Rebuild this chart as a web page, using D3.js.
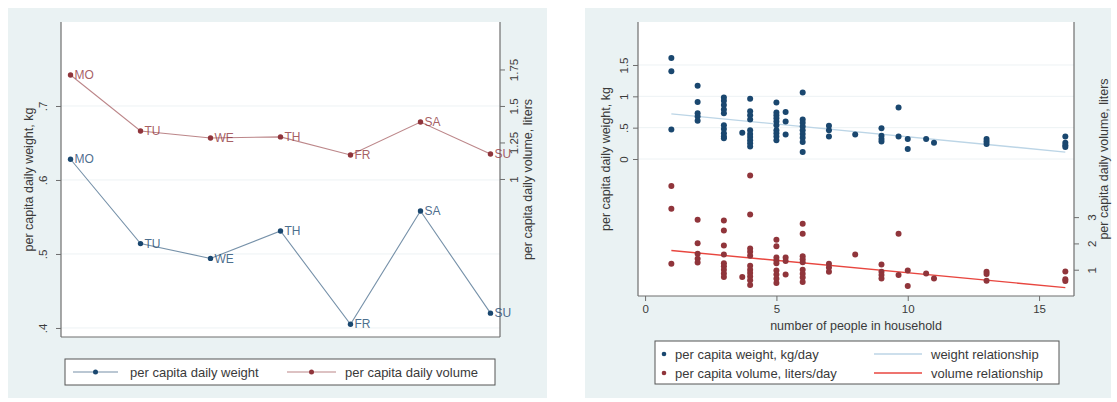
<!DOCTYPE html>
<html>
<head>
<meta charset="utf-8">
<script src="https://cdn.jsdelivr.net/npm/d3@7"></script>
<style>
  body { margin: 0; background: #fff; }
  svg { display: block; font-family: "Liberation Sans", Arial, sans-serif; }
  .tick text { fill: #3a3a3a; font-size: 11.5px; }
  .axis-title { fill: #3a3a3a; font-size: 12.5px; }
  .legend-text { fill: #3a3a3a; font-size: 13px; }
</style>
</head>
<body>
<div id="chart"></div>
<script>
// ----- Data: daily averages (left panel) -----
const days = ["MO", "TU", "WE", "TH", "FR", "SA", "SU"];
const dailyWeight = [0.628, 0.514, 0.494, 0.531, 0.405, 0.558, 0.420];
const dailyVolume = [1.712, 1.329, 1.281, 1.288, 1.164, 1.390, 1.171];
const dailyWeightTicks = [0.4, 0.5, 0.6, 0.7];
const dailyVolumeTicks = [1, 1.25, 1.5, 1.75];

// ----- Data: household scatter (right panel) -----
const hhSizes = [1, 2, 3, 3.7, 4, 5, 5.35, 6, 7, 8, 9, 9.65, 10, 10.7, 11, 13, 16];
const hhWeight = [
  [1.61, 1.40, 0.47],
  [1.17, 0.91, 0.73, 0.68, 0.61],
  [0.98, 0.93, 0.86, 0.79, 0.73, 0.54, 0.48, 0.41, 0.36, 0.33],
  [0.42],
  [0.96, 0.76, 0.70, 0.63, 0.46, 0.40, 0.35, 0.30, 0.25, 0.20],
  [0.90, 0.74, 0.70, 0.65, 0.60, 0.54, 0.46, 0.41, 0.36, 0.30],
  [0.75, 0.60, 0.39],
  [1.06, 0.63, 0.58, 0.52, 0.46, 0.40, 0.34, 0.27, 0.11],
  [0.53, 0.46, 0.36],
  [0.39],
  [0.49, 0.37, 0.32, 0.28],
  [0.82, 0.36],
  [0.32, 0.16],
  [0.32],
  [0.26],
  [0.32, 0.28, 0.24],
  [0.36, 0.26, 0.22, 0.19]
];
const hhVolume = [
  [4.18, 3.32, 1.23],
  [2.90, 2.01, 1.61, 1.42, 1.27],
  [2.87, 2.49, 1.92, 1.58, 1.25, 1.13, 1.00, 0.86, 0.72],
  [0.72],
  [4.58, 3.10, 1.81, 1.68, 1.53, 1.15, 1.00, 0.87, 0.74, 0.60, 0.42],
  [2.14, 1.89, 1.46, 1.35, 1.25, 0.97, 0.82, 0.66, 0.49],
  [1.46, 1.33, 0.82],
  [2.75, 2.37, 1.51, 1.40, 1.28, 1.00, 0.85, 0.70, 0.53],
  [1.23, 1.08, 0.92],
  [1.58],
  [1.20, 0.92, 0.80, 0.67],
  [2.37, 0.80],
  [0.97, 0.38],
  [0.86],
  [0.67],
  [0.92, 0.84, 0.58],
  [0.93, 0.64, 0.57]
];
// fitted lines read at the ends of the household range
const fitSizes = [1, 16];
const weightFit = [0.72, 0.11];
const volumeFit = [1.73, 0.32];
const hhTicks = [0, 5, 10, 15];
const hhWeightTicks = [0, 0.5, 1, 1.5];
const hhVolumeTicks = [1, 2, 3];

// ----- Config -----
const width = 1117, height = 402;
const navy = "#1a476f", maroon = "#90353b";
const bg = "#eaf2f3", axisColor = "#6e6e6e", gridColor = "#edf2f4";
const fmt = v => String(v).replace(/^0\./, ".");

const svg = d3.select("#chart")
  .append("svg")
  .attr("width", width)
  .attr("height", height);

// panel backgrounds
svg.append("rect").attr("x", 8).attr("y", 8).attr("width", 539).attr("height", 390).attr("fill", bg);
svg.append("rect").attr("x", 585).attr("y", 8).attr("width", 526).attr("height", 390).attr("fill", bg);

// helper: vertical axis with rotated labels
function yAxis(g, scale, ticks, side, offset) {
  const ax = (side === "left" ? d3.axisLeft(scale) : d3.axisRight(scale))
    .tickValues(ticks).tickSize(5).tickFormat(fmt);
  g.call(ax);
  g.select(".domain").remove();
  g.selectAll(".tick line").attr("stroke", axisColor);
  g.selectAll(".tick text")
    .attr("transform", "rotate(-90)")
    .attr("x", 0)
    .attr("y", side === "left" ? -offset : offset)
    .attr("dy", "0.35em")
    .attr("text-anchor", "middle");
}

function plotFrame(x0, x1, y0, y1) {
  svg.append("rect").attr("x", x0).attr("y", y0).attr("width", x1 - x0).attr("height", y1 - y0).attr("fill", "#fff");
}

function frameLines(x0, x1, y0, y1) {
  const g = svg.append("g").attr("stroke", axisColor).attr("stroke-width", 1.2);
  g.append("line").attr("x1", x0).attr("x2", x0).attr("y1", y0).attr("y2", y1);
  g.append("line").attr("x1", x1).attr("x2", x1).attr("y1", y0).attr("y2", y1);
  g.append("line").attr("x1", x0).attr("x2", x1).attr("y1", y1).attr("y2", y1);
}

function axisTitle(x, y, text) {
  svg.append("text").attr("class", "axis-title")
    .attr("transform", `translate(${x},${y}) rotate(-90)`)
    .attr("text-anchor", "middle").attr("dy", "0.35em")
    .text(text);
}

// ===== Left panel: day of week =====
const L = { x0: 61, x1: 500, y0: 22, y1: 337 };
plotFrame(L.x0, L.x1, L.y0, L.y1);

const xDay = d3.scalePoint().domain(days).range([L.x0, L.x1]).padding(0.136);
const yW = d3.scaleLinear().domain([0.3878, 0.8135]).range([L.y1, L.y0]);
const yV = d3.scaleLinear().domain([-0.0822, 2.075]).range([L.y1, L.y0]);

svg.append("g").selectAll("line").data(dailyWeightTicks).join("line")
  .attr("x1", L.x0).attr("x2", L.x1)
  .attr("y1", d => yW(d)).attr("y2", d => yW(d))
  .attr("stroke", gridColor);

frameLines(L.x0, L.x1, L.y0, L.y1);
yAxis(svg.append("g").attr("transform", `translate(${L.x0},0)`), yW, dailyWeightTicks, "left", 18);
yAxis(svg.append("g").attr("transform", `translate(${L.x1},0)`), yV, dailyVolumeTicks, "right", 14);
axisTitle(29, (L.y0 + L.y1) / 2, "per capita daily weight, kg");
axisTitle(528, (L.y0 + L.y1) / 2, "per capita daily volume, liters");

const daySeries = [
  { values: dailyWeight, y: yW, color: navy },
  { values: dailyVolume, y: yV, color: maroon }
];
daySeries.forEach(s => {
  const pts = days.map((d, i) => [xDay(d), s.y(s.values[i]), d]);
  svg.append("path")
    .attr("d", d3.line()(pts.map(p => [p[0], p[1]])))
    .attr("fill", "none").attr("stroke", s.color).attr("stroke-opacity", 0.6).attr("stroke-width", 1.1);
  svg.append("g").selectAll("circle").data(pts).join("circle")
    .attr("cx", p => p[0]).attr("cy", p => p[1]).attr("r", 2.7).attr("fill", s.color);
  svg.append("g").selectAll("text").data(pts).join("text")
    .attr("x", p => p[0] + 4).attr("y", p => p[1]).attr("dy", "0.35em")
    .attr("fill", s.color).attr("fill-opacity", 0.8).style("font-size", "12px")
    .text(p => p[2]);
});

// left legend
const lg = svg.append("g");
lg.append("rect").attr("x", 65).attr("y", 359).attr("width", 430).attr("height", 26)
  .attr("fill", "#fff").attr("stroke", "#555").attr("stroke-width", 1);
[
  { x1: 73, x2: 118, tx: 130, color: navy, label: "per capita daily weight" },
  { x1: 287, x2: 336, tx: 345, color: maroon, label: "per capita daily volume" }
].forEach(k => {
  lg.append("line").attr("x1", k.x1).attr("x2", k.x2).attr("y1", 372).attr("y2", 372)
    .attr("stroke", k.color).attr("stroke-opacity", 0.6).attr("stroke-width", 1.1);
  lg.append("circle").attr("cx", (k.x1 + k.x2) / 2).attr("cy", 372).attr("r", 2.5).attr("fill", k.color);
  lg.append("text").attr("class", "legend-text").attr("x", k.tx).attr("y", 372).attr("dy", "0.35em").text(k.label);
});

// ===== Right panel: household size =====
const R = { x0: 638, x1: 1074, y0: 22, y1: 296 };
plotFrame(R.x0, R.x1, R.y0, R.y1);

const xHh = d3.scaleLinear().domain([-0.27, 16.33]).range([R.x0, R.x1]);
const yHW = d3.scaleLinear().domain([-2.186, 2.186]).range([R.y1, R.y0]);
const yHV = d3.scaleLinear().domain([0, 10.42]).range([R.y1, R.y0]);

svg.append("g").selectAll("line").data(hhWeightTicks).join("line")
  .attr("x1", R.x0).attr("x2", R.x1)
  .attr("y1", d => yHW(d)).attr("y2", d => yHW(d))
  .attr("stroke", gridColor);

const weightPts = hhSizes.flatMap((n, i) => hhWeight[i].map(v => [n, v]));
const volumePts = hhSizes.flatMap((n, i) => hhVolume[i].map(v => [n, v]));

svg.append("path")
  .attr("d", d3.line()(fitSizes.map((n, i) => [xHh(n), yHW(weightFit[i])])))
  .attr("stroke", "#bcd5e6").attr("stroke-width", 1.4).attr("fill", "none");
svg.append("path")
  .attr("d", d3.line()(fitSizes.map((n, i) => [xHh(n), yHV(volumeFit[i])])))
  .attr("stroke", "#e8463f").attr("stroke-width", 1.4).attr("fill", "none");

svg.append("g").selectAll("circle").data(weightPts).join("circle")
  .attr("cx", d => xHh(d[0])).attr("cy", d => yHW(d[1])).attr("r", 3).attr("fill", navy);
svg.append("g").selectAll("circle").data(volumePts).join("circle")
  .attr("cx", d => xHh(d[0])).attr("cy", d => yHV(d[1])).attr("r", 3).attr("fill", maroon);

frameLines(R.x0, R.x1, R.y0, R.y1);
yAxis(svg.append("g").attr("transform", `translate(${R.x0},0)`), yHW, hhWeightTicks, "left", 14);
yAxis(svg.append("g").attr("transform", `translate(${R.x1},0)`), yHV, hhVolumeTicks, "right", 18);

const xg = svg.append("g").attr("transform", `translate(0,${R.y1})`)
  .call(d3.axisBottom(xHh).tickValues(hhTicks).tickSize(5).tickFormat(d3.format("d")));
xg.select(".domain").remove();
xg.selectAll(".tick line").attr("stroke", axisColor);
xg.selectAll(".tick text").attr("y", 9);

svg.append("text").attr("class", "axis-title")
  .attr("x", 856).attr("y", 326).attr("dy", "0.35em").attr("text-anchor", "middle")
  .text("number of people in household");
axisTitle(606, (R.y0 + R.y1) / 2, "per capita daily weight, kg");
axisTitle(1104, (R.y0 + R.y1) / 2, "per capita daily volume, liters");

// right legend
const rg = svg.append("g");
rg.append("rect").attr("x", 655).attr("y", 341).attr("width", 404).attr("height", 43)
  .attr("fill", "#fff").attr("stroke", "#555").attr("stroke-width", 1);
[
  { y: 354, color: navy, label: "per capita weight, kg/day" },
  { y: 373, color: maroon, label: "per capita volume, liters/day" }
].forEach(k => {
  rg.append("circle").attr("cx", 664).attr("cy", k.y).attr("r", 2.3).attr("fill", k.color);
  rg.append("text").attr("class", "legend-text").attr("x", 675).attr("y", k.y).attr("dy", "0.35em").text(k.label);
});
[
  { y: 354, color: "#bcd5e6", label: "weight relationship" },
  { y: 373, color: "#e8463f", label: "volume relationship" }
].forEach(k => {
  rg.append("line").attr("x1", 874).attr("x2", 922).attr("y1", k.y).attr("y2", k.y)
    .attr("stroke", k.color).attr("stroke-width", 1.4);
  rg.append("text").attr("class", "legend-text").attr("x", 931).attr("y", k.y).attr("dy", "0.35em").text(k.label);
});
</script>
</body>
</html>
